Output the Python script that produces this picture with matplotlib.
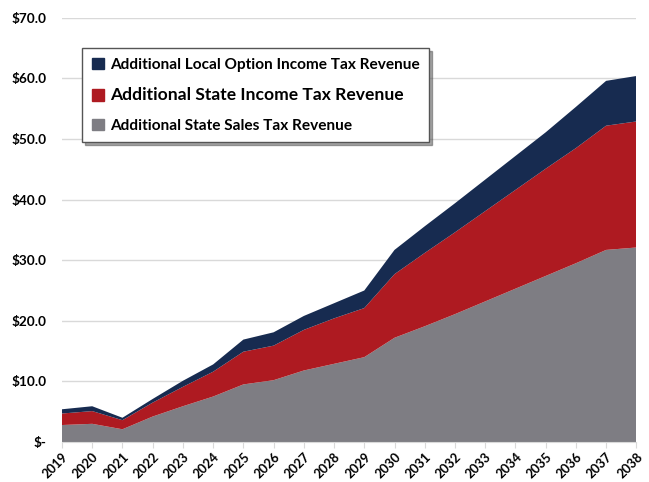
import numpy as np
import matplotlib.pyplot as plt
from matplotlib.patches import Patch

plt.rcParams['font.family'] = ['Lato', 'DejaVu Sans']

# Values ($, stacked areas)
years = list(range(2019, 2039))
sales_tax = [2.8, 3.0, 2.1, 4.2, 5.9, 7.5, 9.5, 10.2, 11.8, 12.9, 14.0,
             17.2, 19.1, 21.1, 23.2, 25.3, 27.4, 29.5, 31.7, 32.1]
state_income_top = [4.7, 5.1, 3.6, 6.5, 9.1, 11.6, 14.9, 15.9, 18.5, 20.4, 22.1,
                    27.7, 31.2, 34.6, 38.1, 41.6, 45.1, 48.5, 52.2, 52.9]
total_top = [5.4, 5.9, 4.0, 7.1, 10.1, 12.8, 16.9, 18.1, 20.8, 22.9, 25.0,
             31.7, 35.6, 39.4, 43.3, 47.2, 51.1, 55.3, 59.6, 60.4]

state_income = np.array(state_income_top) - np.array(sales_tax)
local_income = np.array(total_top) - np.array(state_income_top)

labels = ["Additional State Sales Tax Revenue",
          "Additional State Income Tax Revenue",
          "Additional Local Option Income Tax Revenue"]
colors = ["#7e7d83", "#ae1a21", "#172b50"]

fig = plt.figure(figsize=(6.49, 4.82), dpi=100)
ax = fig.add_axes([0.0955, 0.083, 0.885, 0.88])
ax.stackplot(years, sales_tax, state_income, local_income, colors=colors, linewidth=0)

ax.set_xlim(2019, 2038)
ax.set_ylim(0, 70)
ax.set_yticks(np.arange(0, 71, 10))
ax.set_yticklabels(["$-"] + [f"${v:.1f}" for v in np.arange(10, 71, 10)],
                   fontweight="bold", fontsize=9.8)
ax.set_xticks(years)
ax.set_xticklabels([str(y) for y in years], rotation=45, ha="right",
                   rotation_mode="anchor", fontweight="bold", fontsize=9.3)
ax.grid(axis="y", color="#d9d9d9", linewidth=1)
ax.set_axisbelow(True)
for s in ["top", "right", "left"]:
    ax.spines[s].set_visible(False)
ax.spines["bottom"].set_color("#d9d9d9")
ax.tick_params(axis="y", length=0, pad=11)
ax.tick_params(axis="x", length=4, color="#d9d9d9", pad=2)

# Legend (top series first)
handles = [Patch(color=c) for c in colors[::-1]]
leg = ax.legend(handles, labels[::-1], loc="upper left", bbox_to_anchor=(0.035, 0.929),
                borderaxespad=0, fancybox=False, shadow=True, edgecolor="#555555",
                framealpha=1, handlelength=0.8, handleheight=0.8, handletextpad=0.4,
                labelspacing=1.0, borderpad=0.62, prop={"weight": "bold", "size": 11.1})
leg.get_frame().set_linewidth(1)
leg.get_texts()[1].set_fontsize(12.6)

plt.savefig("out.png", dpi=100)
plt.close()
